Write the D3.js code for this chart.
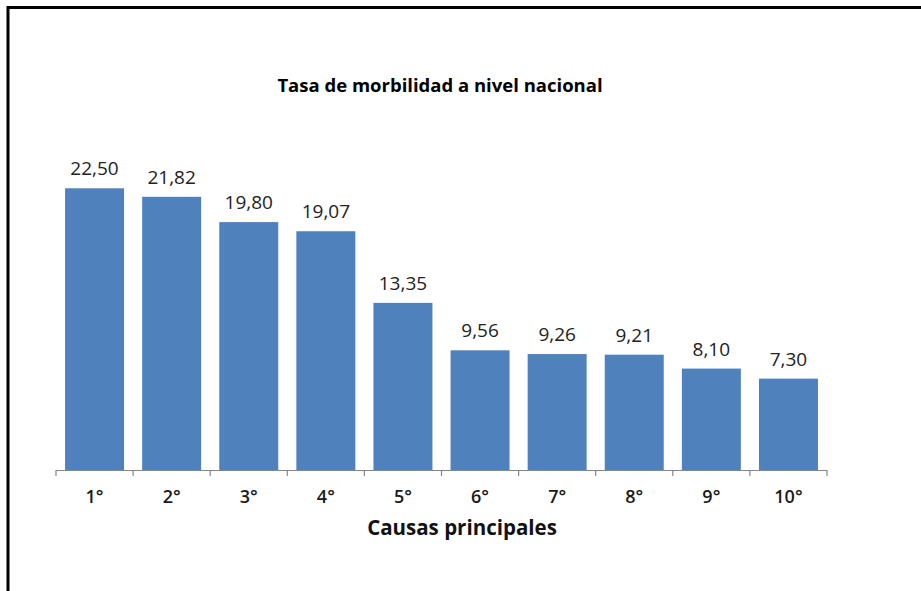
<!DOCTYPE html>
<html>
<head>
<meta charset="utf-8">
<script src="https://cdn.jsdelivr.net/npm/d3@7"></script>
<style>
  html, body { margin: 0; padding: 0; background: #fff; }
  svg { display: block; }
  text { font-family: "Open Sans", "Lato", sans-serif; }
</style>
</head>
<body>
<svg id="chart" width="921" height="591"></svg>
<script>
// Causas principales de morbilidad y su tasa
const categories = ["1°", "2°", "3°", "4°", "5°", "6°", "7°", "8°", "9°", "10°"];
const values = [22.50, 21.82, 19.80, 19.07, 13.35, 9.56, 9.26, 9.21, 8.10, 7.30];
const title = "Tasa de morbilidad a nivel nacional";
const xTitle = "Causas principales";

const svg = d3.select("#chart");
const W = 921, H = 591;

// Frame: thick line along top and left edges
svg.append("path")
  .attr("d", `M8,${H} L8,7.5 L${W},7.5`)
  .attr("fill", "none")
  .attr("stroke", "#000")
  .attr("stroke-width", 3);

const plot = { left: 56, right: 827, top: 157, bottom: 470 };

const x = d3.scaleBand()
  .domain(categories)
  .range([plot.left, plot.right])
  .paddingInner(0.235)
  .paddingOuter(0.1175);

const y = d3.scaleLinear()
  .domain([0, 25])
  .range([plot.bottom, plot.top]);

const fmt = v => d3.format(".2f")(v).replace(".", ",");

// Bars
svg.append("g")
  .selectAll("rect")
  .data(values)
  .join("rect")
  .attr("x", (d, i) => x(categories[i]))
  .attr("y", d => y(d))
  .attr("width", x.bandwidth())
  .attr("height", d => y(0) - y(d))
  .attr("fill", "#4F81BD");

// Value labels
svg.append("g")
  .selectAll("text")
  .data(values)
  .join("text")
  .attr("x", (d, i) => x(categories[i]) + x.bandwidth() / 2)
  .attr("y", d => y(d) - 13)
  .attr("text-anchor", "middle")
  .attr("font-size", 19)
  .attr("fill", "#222")
  .text(fmt);

// Category axis with ticks at band boundaries
const axisG = svg.append("g");
axisG.append("line")
  .attr("x1", plot.left).attr("x2", plot.right)
  .attr("y1", plot.bottom + 0.5).attr("y2", plot.bottom + 0.5)
  .attr("stroke", "#868686").attr("stroke-width", 1.2);

const step = x.step();
const boundaries = d3.range(categories.length + 1).map(i => plot.left + i * step);
axisG.selectAll("line.tick")
  .data(boundaries)
  .join("line")
  .attr("class", "tick")
  .attr("x1", d => d).attr("x2", d => d)
  .attr("y1", plot.bottom).attr("y2", plot.bottom + 6)
  .attr("stroke", "#868686").attr("stroke-width", 1.2);

axisG.selectAll("text")
  .data(categories)
  .join("text")
  .attr("x", d => x(d) + x.bandwidth() / 2)
  .attr("y", 503)
  .attr("text-anchor", "middle")
  .attr("font-size", 18)
  .attr("font-weight", 600)
  .attr("fill", "#1a1a1a")
  .text(d => d);

// Titles
svg.append("text")
  .attr("x", 440)
  .attr("y", 92)
  .attr("text-anchor", "middle")
  .attr("font-size", 18.5)
  .attr("font-weight", 700)
  .attr("fill", "#000")
  .text(title);

svg.append("text")
  .attr("x", 462)
  .attr("y", 535)
  .attr("text-anchor", "middle")
  .attr("font-size", 20.5)
  .attr("font-weight", 700)
  .attr("fill", "#111")
  .text(xTitle);
</script>
</body>
</html>
